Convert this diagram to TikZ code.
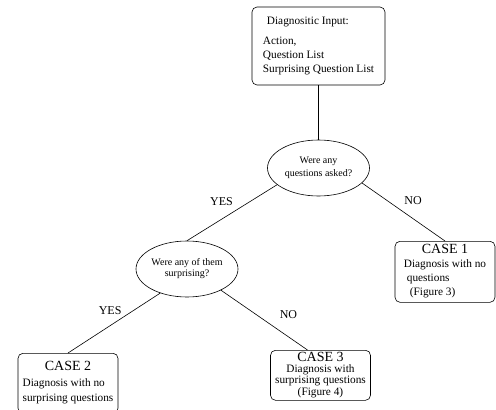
\documentclass[tikz,border=0pt]{standalone}
\usepackage{fontspec}
\setmainfont{Liberation Serif}
\usetikzlibrary{trees,shapes}

\newcommand{\casehead}[1]{{\fontsize{14}{14}\selectfont #1}}

\begin{document}
\begin{tikzpicture}[x=1pt,y=1pt,line width=0.6pt,
  		inbox/.style={align=left, rectangle,draw,rounded corners=5pt,minimum width=133pt,minimum height=78pt,inner xsep=10pt,font=\fontsize{11.3}{14}\selectfont},
  		question/.style={ellipse,draw,align=center,minimum width=102pt,minimum height=56pt,inner sep=0pt,font=\fontsize{10}{13.4}\selectfont},
  		casebox/.style={rectangle,draw,rounded corners=5pt,anchor=north,minimum width=100pt,minimum height=61pt,inner sep=2pt,font=\fontsize{11.3}{14}\selectfont},
  		answer/.style={font=\fontsize{12}{12}\selectfont,inner sep=0pt},
  		level 1/.style={level distance=122pt},
  		level 2/.style={sibling distance=258pt,level distance=101pt},
  		level 3/.style={sibling distance=252.5pt}]
    		\useasboundingbox (0,0) rectangle (496,-410);
    		% Input
      		\node[inbox] (input) at (318.5,-46) {\hspace{4pt}Diagnositic Input:\\[6pt] Action,\\ Question List\\ Surprising Question List}
    		% Questions and cases
    			child{node[question] (q1) {Were any\\ questions asked?}
      				child[xshift=-2.5pt,edge from parent path={(\tikzparentnode.202) -- (\tikzchildnode.north)}]{node[question,font=\fontsize{10}{11}\selectfont] (q2) {Were any of them\\ surprising?}
      					child[xshift=7.25pt,level distance=84pt,edge from parent path={(\tikzparentnode.222) -- (\tikzchildnode.north)}]{node[casebox,minimum height=60pt] (case2) {\begin{tabular}{@{}l@{}}\multicolumn{1}{@{}c@{}}{\casehead{CASE 2}}\\[2pt] Diagnosis with no\\[1pt] surprising questions\end{tabular}}
      						edge from parent node[answer,xshift=-4pt,yshift=12pt]{YES}}
      					child[xshift=7.25pt,level distance=81pt,edge from parent path={(\tikzparentnode.-32) -- ([xshift=-13pt]\tikzchildnode.north)}]{node[casebox,minimum height=50pt,align=center,font=\fontsize{11.3}{9.5}\selectfont] (case3) {\casehead{CASE 3}\\[1pt] Diagnosis with\\ surprising questions\\[1pt] (Figure 4)}
      						edge from parent node[answer,xshift=24.25pt,yshift=5.5pt]{NO}}
      					edge from parent node[answer,xshift=-10.5pt,yshift=11.5pt]{YES}}
			      	child[xshift=-2.5pt,level distance=73pt,edge from parent path={(\tikzparentnode.-19) -- (\tikzchildnode.north)}]{node[casebox] (case1) {\begin{tabular}{@{}l@{}}\multicolumn{1}{@{}c@{}}{\casehead{CASE 1}}\\ Diagnosis with no\\ \hspace{3pt}questions\\ \hspace{6pt}(Figure 3)\end{tabular}}
      					edge from parent node[answer,xshift=9.5pt,yshift=11pt]{NO}}};
	\end{tikzpicture}
\end{document}
